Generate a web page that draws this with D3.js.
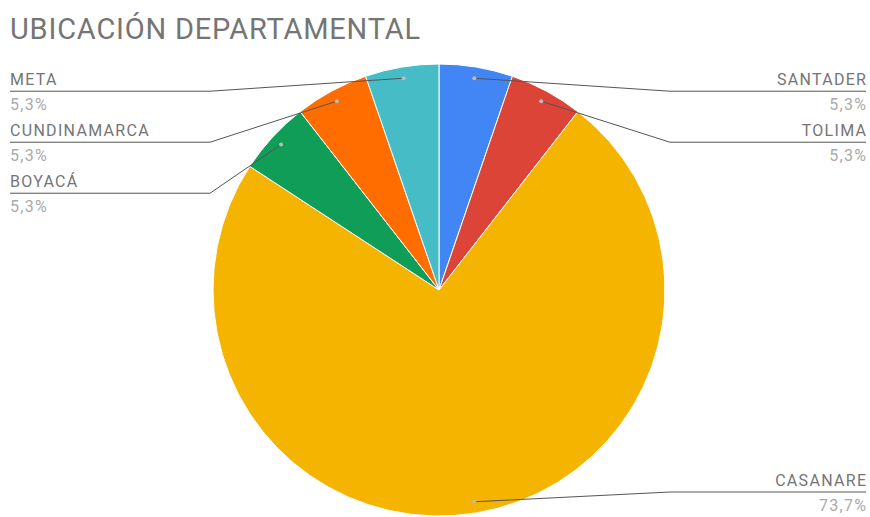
<!DOCTYPE html>
<html>
<head>
<meta charset="utf-8">
<script src="https://cdn.jsdelivr.net/npm/d3@7"></script>
<style>
  body { margin: 0; background: #fff; }
  text { font-family: Roboto, "Noto Sans", sans-serif; }
</style>
</head>
<body>
<div id="chart"></div>
<script>
// datos
let departamentos = ["SANTADER", "TOLIMA", "CASANARE", "BOYACÁ", "CUNDINAMARCA", "META"];
let valores = [1, 1, 14, 1, 1, 1];
let colores = ["#4285f4", "#db4437", "#f4b400", "#0f9d58", "#ff6d01", "#46bdc6"];
let etiquetasPct = ["5,3%", "5,3%", "73,7%", "5,3%", "5,3%", "5,3%"];

let width = 870;
let height = 517;
let cx = 439, cy = 290, radius = 226;
let ls = 1.3; // espaciado de letras

let svg = d3.select("#chart")
  .append("svg")
  .attr("width", width)
  .attr("height", height);

// titulo
svg.append("text")
  .attr("x", 10)
  .attr("y", 39)
  .attr("fill", "#757575")
  .attr("font-size", "29px")
  .attr("letter-spacing", "0.8px")
  .text("UBICACIÓN DEPARTAMENTAL");

let pie = d3.pie().sort(null).value(function(d) { return d; });
let arcs = pie(valores);
let arc = d3.arc().innerRadius(0).outerRadius(radius);

let g = svg.append("g")
  .attr("transform", "translate(" + cx + "," + cy + ")");

g.selectAll("path")
  .data(arcs)
  .enter()
  .append("path")
  .attr("d", arc)
  .attr("fill", function(d, i) { return colores[i]; })
  .attr("stroke", "#fff")
  .attr("stroke-width", 1);

// posiciones de etiquetas
let dotArc = d3.arc().innerRadius(radius * 0.95).outerRadius(radius * 0.95);
let items = arcs.map(function(d, i) {
  let p = dotArc.centroid(d);
  let mid = (d.startAngle + d.endAngle) / 2;
  return { i: i, x: p[0] + cx, y: p[1] + cy, right: mid < Math.PI };
});

["left", "right"].forEach(function(side) {
  let lst = items.filter(function(d) { return (side == "right") == d.right; })
    .sort(function(a, b) { return a.y - b.y; });
  let prev = -Infinity;
  lst.forEach(function(d) {
    let ly = Math.max(d.y + 13, prev + 51);
    ly = Math.min(ly, height - 25);
    d.ly = ly;
    prev = ly;
  });
});

let labels = svg.append("g");
items.forEach(function(d) {
  let elbowX = d.right ? 670 : 210;
  let endX = d.right ? 866 : 10;
  let textX = d.right ? endX + ls : endX;
  labels.append("polyline")
    .attr("points", [[d.x, d.y], [elbowX, d.ly], [endX, d.ly]].map(function(p) { return p.join(","); }).join(" "))
    .attr("fill", "none")
    .attr("stroke", "#555")
    .attr("stroke-width", 1);
  labels.append("circle")
    .attr("cx", d.x)
    .attr("cy", d.y)
    .attr("r", 2)
    .attr("fill", "#bbb");
  labels.append("text")
    .attr("x", textX)
    .attr("y", d.ly - 6)
    .attr("text-anchor", d.right ? "end" : "start")
    .attr("fill", "#757575")
    .attr("font-size", "16px")
    .attr("letter-spacing", ls + "px")
    .text(departamentos[d.i]);
  labels.append("text")
    .attr("x", textX)
    .attr("y", d.ly + 19)
    .attr("text-anchor", d.right ? "end" : "start")
    .attr("fill", "#aaa")
    .attr("font-size", "16px")
    .attr("letter-spacing", ls + "px")
    .text(etiquetasPct[d.i]);
});
</script>
</body>
</html>
